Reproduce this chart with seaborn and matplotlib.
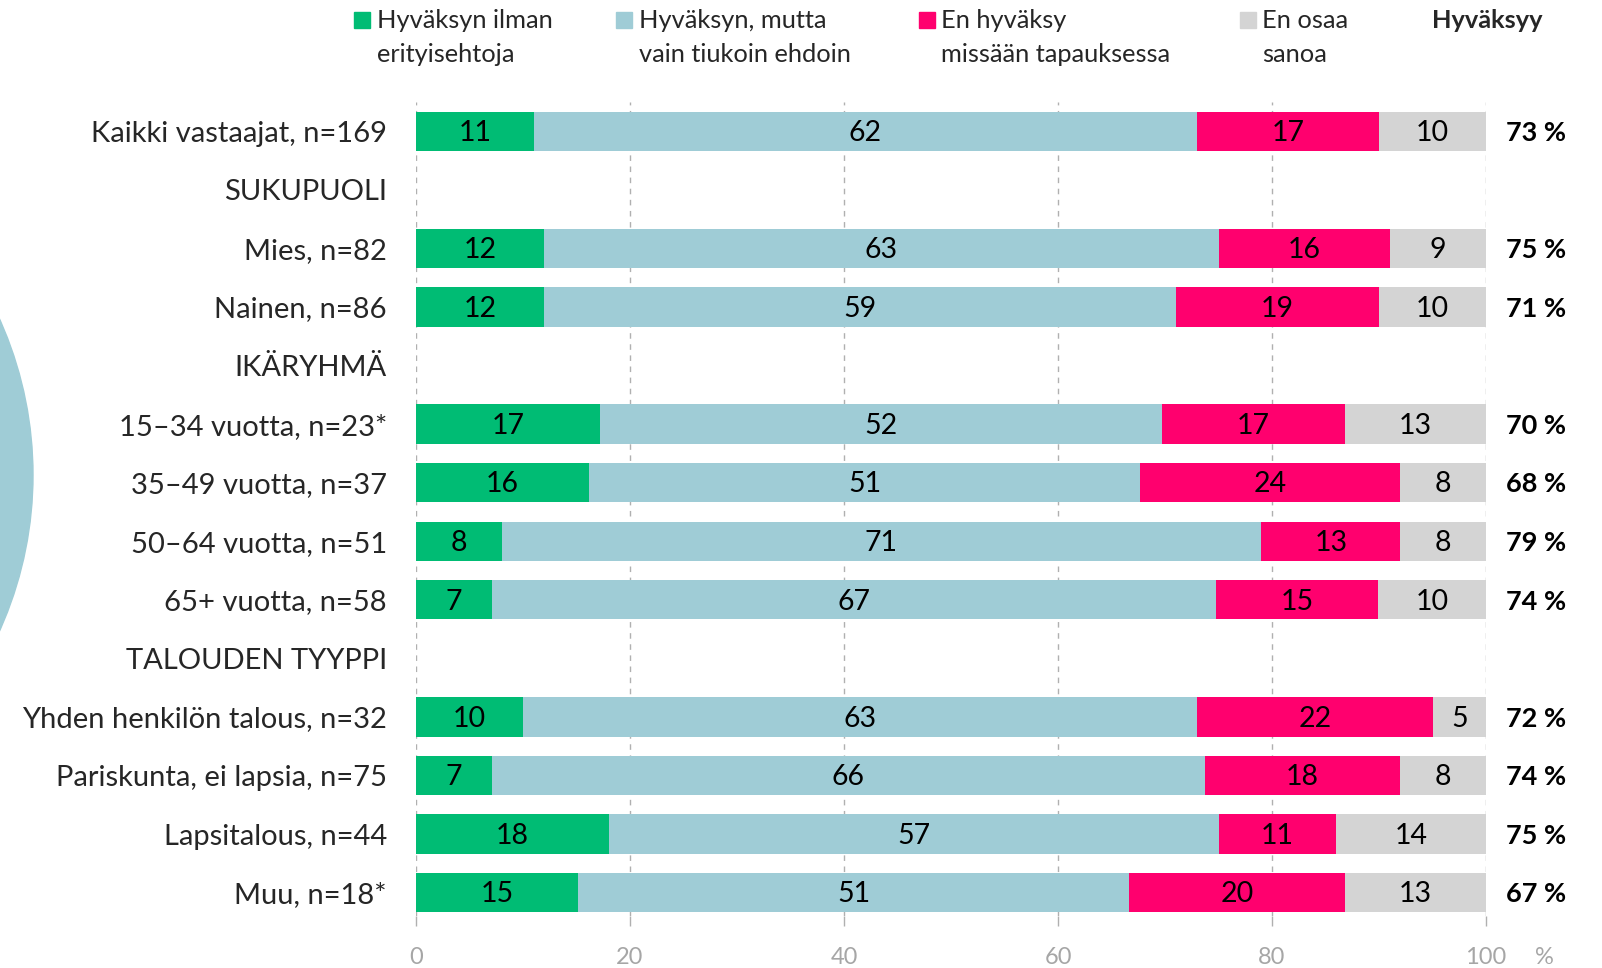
import numpy as np
import pandas as pd
import matplotlib
matplotlib.use("Agg")
import matplotlib.pyplot as plt
import seaborn as sns
from matplotlib.patches import Ellipse, Rectangle

# ---------------- data ----------------
rows = ["Kaikki vastaajat, n=169", "SUKUPUOLI", "Mies, n=82", "Nainen, n=86",
        "IKÄRYHMÄ", "15–34 vuotta, n=23*", "35–49 vuotta, n=37",
        "50–64 vuotta, n=51", "65+ vuotta, n=58", "TALOUDEN TYYPPI",
        "Yhden henkilön talous, n=32", "Pariskunta, ei lapsia, n=75",
        "Lapsitalous, n=44", "Muu, n=18*"]
headers = ["SUKUPUOLI", "IKÄRYHMÄ", "TALOUDEN TYYPPI"]
bar_rows = [r for r in rows if r not in headers]

hyvaksyn_ilman = [11, 12, 12, 17, 16, 8, 7, 10, 7, 18, 15]
hyvaksyn_tiukoin = [62, 63, 59, 52, 51, 71, 67, 63, 66, 57, 51]
en_hyvaksy = [17, 16, 19, 17, 24, 13, 15, 22, 18, 11, 20]
en_osaa = [10, 9, 10, 13, 8, 8, 10, 5, 8, 14, 13]
hyvaksyy = [73, 75, 71, 70, 68, 79, 74, 72, 74, 75, 67]

legend_lines = [("Hyväksyn ilman", "erityisehtoja"),
                ("Hyväksyn, mutta", "vain tiukoin ehdoin"),
                ("En hyväksy", "missään tapauksessa"),
                ("En osaa", "sanoa")]
x_ticks = [0, 20, 40, 60, 80, 100]
colors = ["#00BC74", "#9FCCD6", "#FF006E", "#D4D4D4"]

# ---------------- figure ----------------
W, H = 1602, 968
sns.set_theme(style="white")
plt.rcParams["font.family"] = ["Lato", "DejaVu Sans"]

fig = plt.figure(figsize=(W / 100, H / 100), dpi=100)
fig.patch.set_facecolor("white")

def px(x, y):
    return x / W, 1 - y / H

# decorative circle on the left
circ = Ellipse(px(-347, 475), 760 / W, 760 / H, transform=fig.transFigure,
               color="#9FCCD6", zorder=0)
fig.add_artist(circ)

ax_left, ax_right, ax_top, ax_bot = 416, 1486, 102, 916
ax = fig.add_axes([ax_left / W, 1 - ax_bot / H, (ax_right - ax_left) / W,
                   (ax_bot - ax_top) / H])
ax.set_facecolor("none")

vals = np.array([hyvaksyn_ilman, hyvaksyn_tiukoin, en_hyvaksy, en_osaa]).T.astype(float)
widths = vals / vals.sum(axis=1, keepdims=True) * 100
cum = np.cumsum(widths, axis=1)

df = pd.DataFrame({"row": bar_rows})
for k in range(4):
    df[f"c{k}"] = cum[:, k]

for k in reversed(range(4)):
    sns.barplot(data=df, x=f"c{k}", y="row", order=rows, orient="h",
                color=colors[k], saturation=1, width=0.67, ax=ax, zorder=3,
                linewidth=0)

for i, r in enumerate(bar_rows):
    ypos = rows.index(r)
    for k in range(4):
        center = cum[i, k] - widths[i, k] / 2
        ax.text(center, ypos + 0.03, f"{int(vals[i, k])}", ha="center",
                va="center", fontsize=20.5, color="#000000", zorder=5)
    ax.text(101.9, ypos + 0.03, f"{hyvaksyy[i]} %", ha="left", va="center",
            fontsize=19.5, fontweight="bold", color="#000000", clip_on=False)

ax.set_xlim(0, 100)
ax.set_ylim(13.4, -0.5)
ax.set_xticks(x_ticks)
ax.set_xticklabels([str(t) for t in x_ticks])
ax.set_yticks(range(len(rows)))
ax.set_yticklabels(rows)
ax.set_xlabel("")
ax.set_ylabel("")
for s in ax.spines.values():
    s.set_visible(False)
ax.grid(False)
for t in x_ticks:
    ax.axvline(t, color="#B0B0B0", lw=1, ls=(0, (4, 4)), zorder=1)
ax.tick_params(axis="y", length=0, pad=21, labelsize=21, labelcolor="#262626")
ax.tick_params(axis="x", length=7, width=1, color="#B0B0B0", direction="out",
               pad=15, labelsize=17, labelcolor="#A6A6A6", bottom=True)

fig.text(*px(1544, 958), "%", ha="center", va="center", fontsize=17,
         color="#A6A6A6")

# legend
sq_x = [354, 616, 919, 1240]
tx_x = [377, 639, 941, 1262]
sq = 16
for k in range(4):
    fig.add_artist(Rectangle(px(sq_x[k], 20 + sq / 2), sq / W, sq / H,
                             transform=fig.transFigure, color=colors[k]))
    fig.text(*px(tx_x[k], 20), legend_lines[k][0], ha="left", va="center",
             fontsize=18.3, color="#262626")
    fig.text(*px(tx_x[k], 54), legend_lines[k][1], ha="left", va="center",
             fontsize=18.3, color="#262626")
fig.text(*px(1432, 20), "Hyväksyy", ha="left", va="center", fontsize=18.3,
         fontweight="bold", color="#262626")

fig.savefig("out.png", dpi=100)
